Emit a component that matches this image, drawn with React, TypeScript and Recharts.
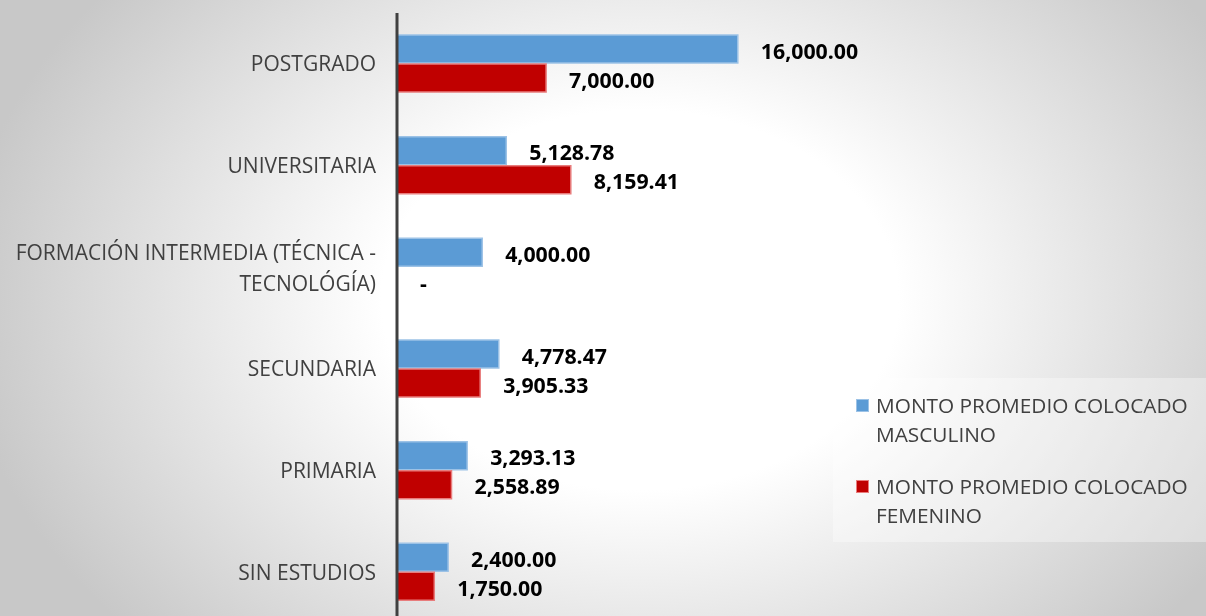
import React from 'react';
import { BarChart, Bar, XAxis, YAxis, Legend, LabelList, Cell } from 'recharts';

const niveles = [
  'POSTGRADO',
  'UNIVERSITARIA',
  'FORMACIÓN INTERMEDIA (TÉCNICA - TECNOLÓGÍA)',
  'SECUNDARIA',
  'PRIMARIA',
  'SIN ESTUDIOS',
];
const montoMasculino = [16000, 5128.78, 4000, 4778.47, 3293.13, 2400];
const montoFemenino = [7000, 8159.41, 0, 3905.33, 2558.89, 1750];

const serieMasculino = 'MONTO PROMEDIO COLOCADO MASCULINO';
const serieFemenino = 'MONTO PROMEDIO COLOCADO FEMENINO';

const BLUE = '#5b9bd5';
const RED = '#c00000';
const FONT = '"Open Sans", sans-serif';

const data = niveles.map((nivel, i) => ({
  nivel,
  masculino: montoMasculino[i],
  femenino: montoFemenino[i],
}));

const fmt = (v: any) =>
  Number(v) === 0
    ? '-'
    : Number(v).toLocaleString('en-US', { minimumFractionDigits: 2, maximumFractionDigits: 2 });

// wrap long category names onto several lines
const wrap = (text: string, max = 32) => {
  const lines: string[] = [];
  let line = '';
  text.split(' ').forEach(w => {
    if (line && (line + ' ' + w).length > max) {
      lines.push(line);
      line = w;
    } else {
      line = line ? line + ' ' + w : w;
    }
  });
  if (line) lines.push(line);
  return lines;
};

const CategoryTick = ({ x, y, payload }: any) => {
  const lines = wrap(payload.value);
  const lh = 31;
  const start = -((lines.length - 1) * lh) / 2;
  return (
    <text x={x} y={y} textAnchor="end" fill="#404040" fontSize={21} fontFamily={FONT}>
      {lines.map((l, i) => (
        <tspan key={i} x={x} dy={i === 0 ? start + (lines.length > 1 ? 8.5 : 7.5) : lh}>
          {l}
        </tspan>
      ))}
    </text>
  );
};

// value label to the right of each bar, "-" for zero
const ValueLabel = ({ x, y, width, height, value }: any) => {
  const end = Number(value) === 0 ? x : x + width;
  return (
    <text
      x={end + 23}
      y={y + height / 2 + 9.5}
      fill="#000"
      fontWeight="bold"
      fontSize={21.3}
      fontFamily={FONT}
    >
      {fmt(value)}
    </text>
  );
};

const legendItems = [
  { name: serieMasculino, color: BLUE, border: '#9cc2e6' },
  { name: serieFemenino, color: RED, border: '#e87c7c' },
];

const LegendBox = () => (
  <div
    style={{
      width: 373,
      height: 164,
      boxSizing: 'border-box',
      padding: '13px 10px 0 23px',
      background: 'rgba(255,255,255,0.35)',
      fontFamily: FONT,
      fontSize: 20.8,
      color: '#404040',
      lineHeight: '29px',
    }}
  >
    {legendItems.map((it, i) => (
      <div key={i} style={{ display: 'flex', marginBottom: 23 }}>
        <div
          style={{
            width: 13,
            height: 13,
            marginTop: 8,
            marginRight: 7,
            flexShrink: 0,
            background: it.color,
            border: `1px solid ${it.border}`,
            boxSizing: 'border-box',
          }}
        />
        <div style={{ width: 325 }}>{it.name}</div>
      </div>
    ))}
  </div>
);

export default function App() {
  return (
    <div
      style={{
        position: 'fixed',
        left: 0,
        top: 0,
        width: 1206,
        height: 616,
        overflow: 'hidden',
        background: 'radial-gradient(ellipse 680px 500px at 640px 300px, #ffffff 38%, #c8c8c8 100%)',
      }}
    >
      <BarChart
        width={1206}
        height={623}
        data={data}
        layout="vertical"
        margin={{ top: 13, right: 383, bottom: 0, left: 0 }}
        barGap={1}
      >
        <XAxis type="number" domain={[0, 20000]} hide />
        <YAxis
          type="category"
          dataKey="nivel"
          width={397}
          axisLine={{ stroke: '#404040', strokeWidth: 3 }}
          tickLine={false}
          tickMargin={15}
          tick={<CategoryTick />}
          interval={0}
        />
        <Legend
          layout="horizontal"
          verticalAlign="middle"
          align="center"
          wrapperStyle={{ left: 833, top: 378, width: 373 }}
          content={() => <LegendBox />}
        />
        <Bar
          dataKey="masculino"
          name={serieMasculino}
          fill={BLUE}
          stroke="#9cc2e6"
          strokeWidth={1.5}
          barSize={28}
          isAnimationActive={false}
        >
          <LabelList dataKey="masculino" content={<ValueLabel />} />
        </Bar>
        <Bar
          dataKey="femenino"
          name={serieFemenino}
          fill={RED}
          stroke="#e87c7c"
          strokeWidth={1.5}
          barSize={28}
          minPointSize={1}
          isAnimationActive={false}
        >
          {montoFemenino.map((v, i) => (
            <Cell
              key={i}
              fill={v === 0 ? 'transparent' : RED}
              stroke={v === 0 ? 'none' : '#e87c7c'}
            />
          ))}
          <LabelList dataKey="femenino" content={<ValueLabel />} />
        </Bar>
      </BarChart>
    </div>
  );
}
